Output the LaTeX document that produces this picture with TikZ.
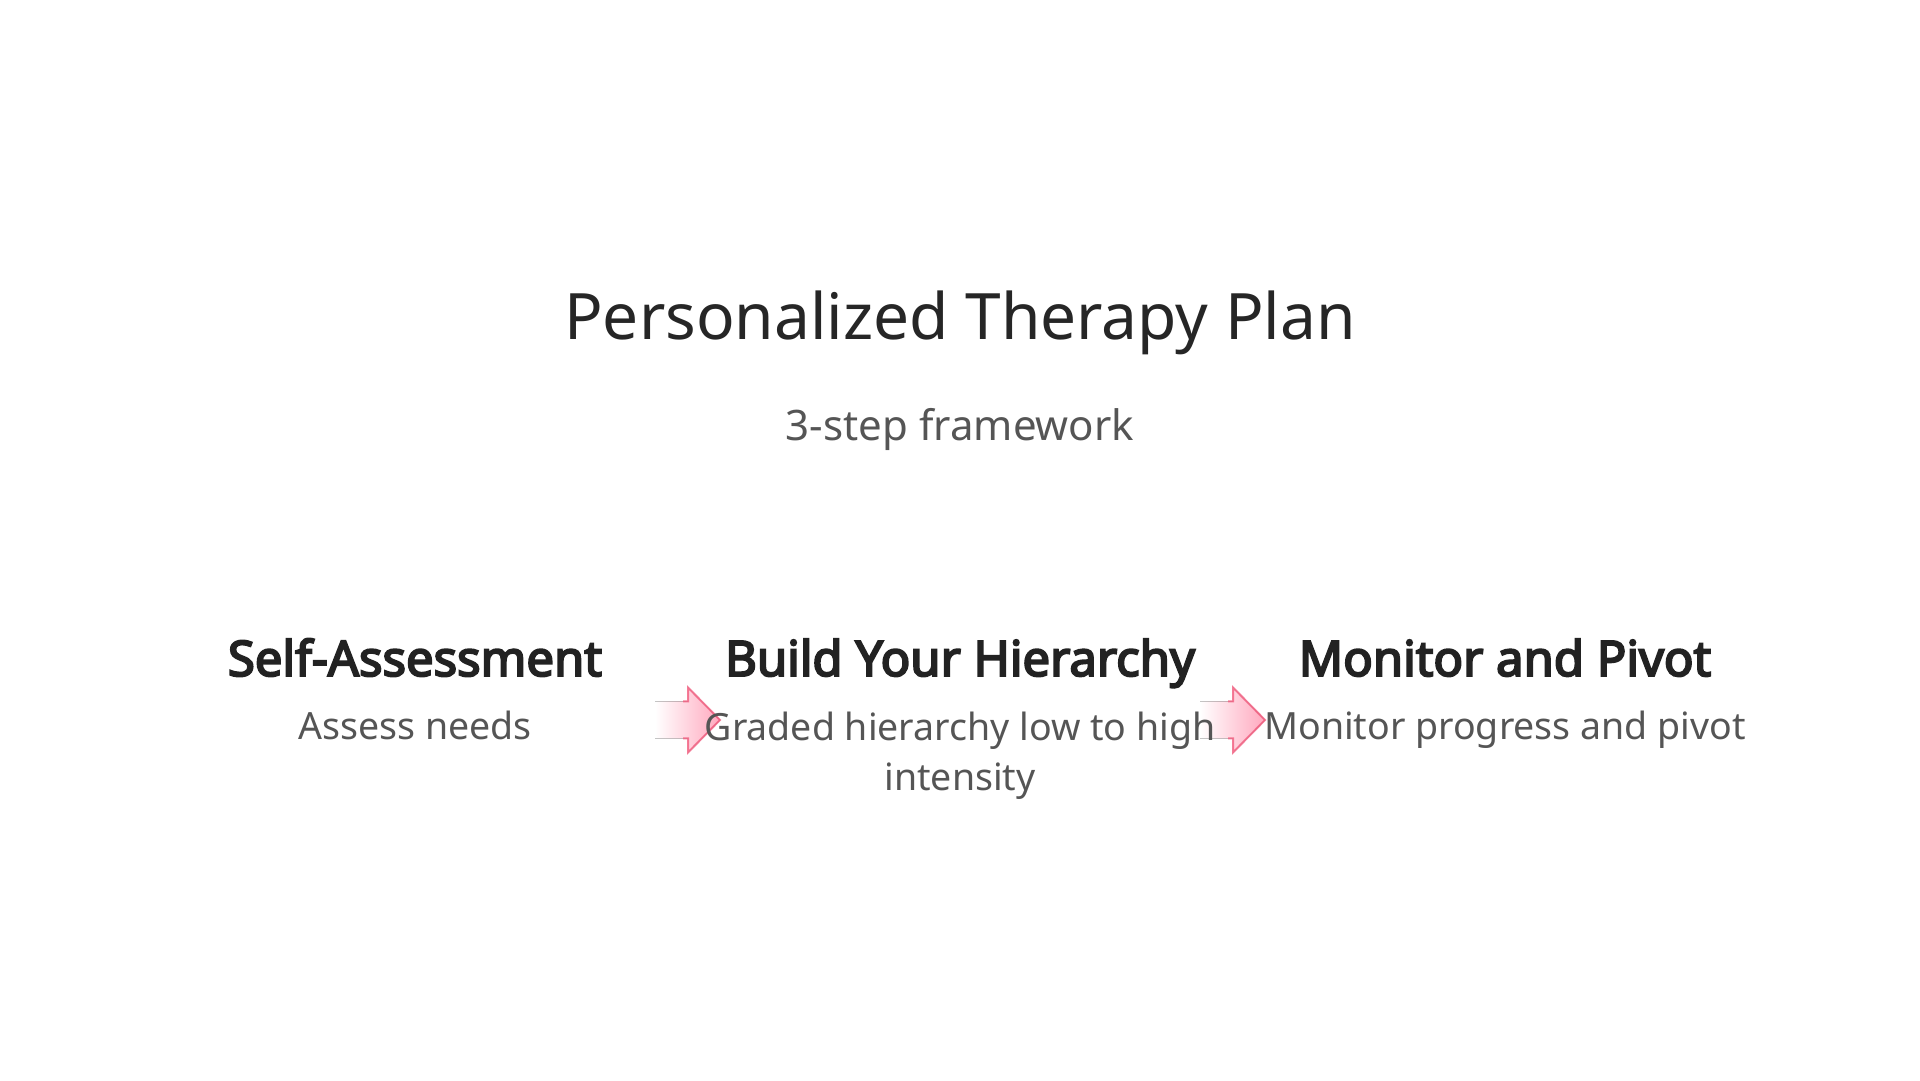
\documentclass[tikz,border=0pt]{standalone}
\usepackage{fontspec}
\setmainfont{Noto Sans}
\newfontfamily\headfont{Noto Sans}[FakeBold=4]
\definecolor{titlecol}{HTML}{262626}
\definecolor{subcol}{HTML}{555555}
\definecolor{headcol}{HTML}{222222}
\definecolor{arrowpink}{HTML}{FFA8BE}
\definecolor{arrowline}{HTML}{F25C7E}
\tikzset{
  titletext/.style={anchor=base, text=titlecol, font=\fontsize{64}{76}\selectfont, inner sep=0},
  subtext/.style={anchor=base, text=subcol, font=\fontsize{42}{50}\selectfont, inner sep=0},
  headtext/.style={anchor=base, text=headcol, font=\headfont\fontsize{49}{56}\selectfont, inner sep=0},
  desctext/.style={anchor=base, text=subcol, font=\fontsize{37.5}{51}\selectfont, inner sep=0, align=center},
  arrowfill/.style={left color=white, right color=arrowpink, draw=none},
  arrowedge/.style={draw=arrowline, line width=2pt, line join=miter, opacity=0.8},
}
\newcommand{\pinkarrow}[2]{%
  \coordinate (#2tail) at (#1,360);
  \fill[arrowfill] (#1,378.5) -- ++(33,0) -- ++(0,14) -- ++(32,-32.5) -- ++(-32,-32.5) -- ++(0,14) -- (#1,341.5) -- cycle;
  \draw[arrowedge] (#1+28,378.5) -- ++(5,0) -- ++(0,14) -- ++(32,-32.5) coordinate (#2tip) -- ++(-32,-32.5) -- ++(0,14) -- ++(-5,0);
}
\begin{document}
\begin{tikzpicture}[x=1pt,y=1pt]
\useasboundingbox (0,0) rectangle (1920,1080);
\fill[white] (0,0) rectangle (1920,1080);
\pinkarrow{655}{a}
\pinkarrow{1200}{b}
\node[titletext] (title) at (960,740) {Personalized Therapy Plan};
\node[subtext] (sub) at (960,639) {3-step framework};
\node[headtext] (h1) at (415,404) {Self-Assessment};
\node[headtext] (h2) at (960,404) {Build Your Hierarchy};
\node[headtext] (h3) at (1505,404) {Monitor and Pivot};
\node[desctext] (d1) at (415,340) {Assess needs};
\node[desctext] (d2) at (960,289) {Graded hierarchy low to high\\intensity};
\node[desctext] (d3) at (1505,340) {Monitor progress and pivot};
\end{tikzpicture}
\end{document}
